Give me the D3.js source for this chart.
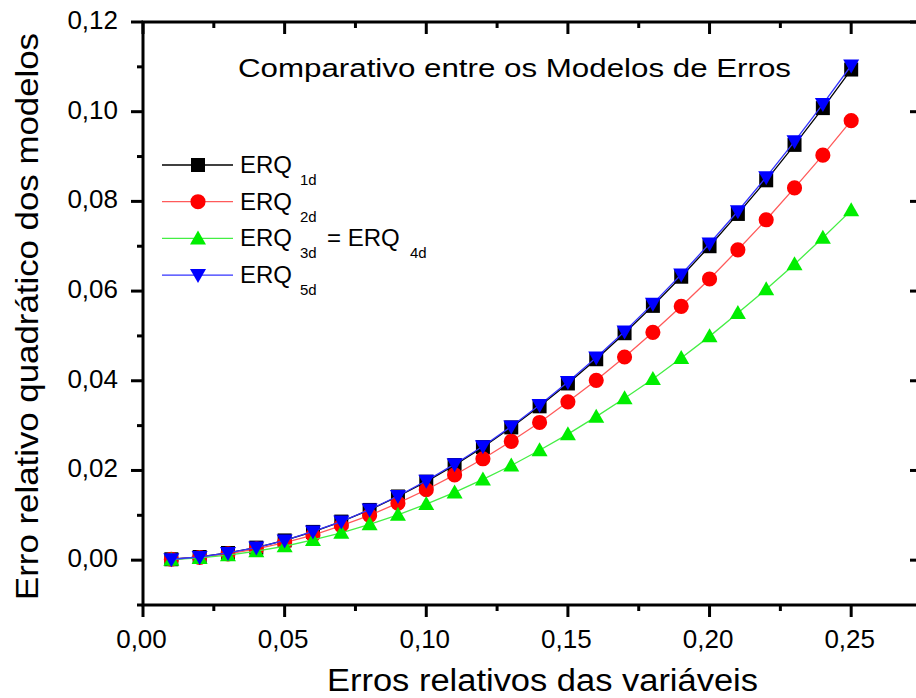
<!DOCTYPE html>
<html>
<head>
<meta charset="utf-8">
<script src="https://cdn.jsdelivr.net/npm/d3@7"></script>
<style>
  body { margin: 0; background: #fff; }
  svg text { font-family: "Liberation Sans", Arial, sans-serif; fill: #000; }
</style>
</head>
<body>
<svg id="chart" width="916" height="698"></svg>
<script>
// erros relativos das variaveis
var xs = [0.01,0.02,0.03,0.04,0.05,0.06,0.07,0.08,0.09,0.10,0.11,0.12,0.13,
          0.14,0.15,0.16,0.17,0.18,0.19,0.20,0.21,0.22,0.23,0.24,0.25];
var erq1 = [0.0002,0.0007,0.0016,0.0028,0.0044,0.0063,0.0086,0.0112,0.0142,0.0175,0.0212,0.0252,0.0296,
            0.0343,0.0394,0.0448,0.0506,0.0567,0.0632,0.0700,0.0772,0.0847,0.0926,0.1008,0.1094];
var erq2 = [0.0002,0.0006,0.0014,0.0025,0.0039,0.0056,0.0077,0.0100,0.0127,0.0157,0.0190,0.0226,0.0265,
            0.0307,0.0353,0.0401,0.0453,0.0508,0.0566,0.0627,0.0692,0.0759,0.0830,0.0903,0.0980];
var erq3 = [0.0001,0.0005,0.0011,0.0020,0.0031,0.0045,0.0061,0.0080,0.0101,0.0125,0.0151,0.0180,0.0211,
            0.0245,0.0281,0.0320,0.0361,0.0404,0.0451,0.0499,0.0551,0.0604,0.0660,0.0719,0.0780];
var erq5 = [0.0002,0.0007,0.0016,0.0028,0.0044,0.0064,0.0086,0.0113,0.0143,0.0177,0.0214,0.0254,0.0298,
            0.0346,0.0397,0.0452,0.0510,0.0572,0.0637,0.0706,0.0778,0.0854,0.0934,0.1017,0.1103];

var xTicks = [0,0.05,0.10,0.15,0.20,0.25];
var xMinor = [0.025,0.075,0.125,0.175,0.225,0.275];
var yTicks = [0,0.02,0.04,0.06,0.08,0.10,0.12];
var yMinor = [-0.01,0.01,0.03,0.05,0.07,0.09,0.11];

var series = [
  {name: "1d", vals: erq1, line: "#000000", fill: "#000000", sym: "square"},
  {name: "2d", vals: erq2, line: "#ff5a5a", fill: "#ff0000", sym: "circle"},
  {name: "3d", vals: erq3, line: "#44ee44", fill: "#00ee00", sym: "up"},
  {name: "5d", vals: erq5, line: "#3333ff", fill: "#0000ff", sym: "down"}
];

var svg = d3.select("#chart");
var x = d3.scaleLinear().domain([0, 0.275]).range([143, 922]);
var y = d3.scaleLinear().domain([-0.01, 0.12]).range([605, 22]);
var fmt = function(d){ return d3.format(".2f")(d).replace(".", ","); };

// symbol paths
function symPath(s) {
  if (s == "square") return "M-7,-7H7V7H-7Z";
  if (s == "circle") return d3.symbol(d3.symbolCircle, 180)();
  if (s == "up") return "M0,-8L8,6H-8Z";
  return "M0,8L8,-6H-8Z";
}

// series
series.forEach(function(s){
  var pts = xs.map(function(v,i){ return [v, s.vals[i]]; });
  svg.append("path")
    .attr("d", d3.line().x(function(d){ return x(d[0]); }).y(function(d){ return y(d[1]); })(pts))
    .attr("fill", "none").attr("stroke", s.line).attr("stroke-width", 1.3);
  svg.selectAll(".m" + s.name).data(pts).join("path")
    .attr("class", "m" + s.name)
    .attr("transform", function(d){ return "translate(" + x(d[0]) + "," + y(d[1]) + ")"; })
    .attr("d", symPath(s.sym))
    .attr("fill", s.fill);
});

// frame
svg.append("rect").attr("x", 143).attr("y", 22).attr("width", 779).attr("height", 583)
  .attr("fill", "none").attr("stroke", "#000").attr("stroke-width", 3);

var ax = svg.append("g").attr("stroke", "#000").attr("stroke-width", 3);
// bottom & top
xTicks.forEach(function(t){
  ax.append("line").attr("x1", x(t)).attr("x2", x(t)).attr("y1", 605).attr("y2", 617);
  ax.append("line").attr("x1", x(t)).attr("x2", x(t)).attr("y1", 22).attr("y2", 34);
});
xMinor.forEach(function(t){
  ax.append("line").attr("x1", x(t)).attr("x2", x(t)).attr("y1", 605).attr("y2", 611);
  ax.append("line").attr("x1", x(t)).attr("x2", x(t)).attr("y1", 22).attr("y2", 28);
});
// left & right
yTicks.forEach(function(t){
  ax.append("line").attr("x1", 131).attr("x2", 143).attr("y1", y(t)).attr("y2", y(t));
  ax.append("line").attr("x1", 910).attr("x2", 922).attr("y1", y(t)).attr("y2", y(t));
});
yMinor.forEach(function(t){
  ax.append("line").attr("x1", 137).attr("x2", 143).attr("y1", y(t)).attr("y2", y(t));
  ax.append("line").attr("x1", 916).attr("x2", 922).attr("y1", y(t)).attr("y2", y(t));
});

svg.selectAll(".xl").data(xTicks).join("text").attr("class", "xl")
  .attr("x", function(d){ return x(d) - 1.5; }).attr("y", 648)
  .attr("text-anchor", "middle").attr("font-size", 26).text(fmt);
svg.selectAll(".yl").data(yTicks).join("text").attr("class", "yl")
  .attr("x", 118).attr("y", function(d){ return y(d) + 7; })
  .attr("text-anchor", "end").attr("font-size", 26).text(fmt);

// titles
svg.append("text").attr("x", 327).attr("y", 691).attr("font-size", 31)
  .attr("textLength", 431).attr("lengthAdjust", "spacingAndGlyphs")
  .text("Erros relativos das variáveis");
svg.append("text").attr("transform", "translate(38,600) rotate(-90)").attr("font-size", 31)
  .attr("textLength", 567).attr("lengthAdjust", "spacingAndGlyphs")
  .text("Erro relativo quadrático dos modelos");
svg.append("text").attr("x", 238).attr("y", 77).attr("font-size", 26)
  .attr("textLength", 553).attr("lengthAdjust", "spacingAndGlyphs")
  .text("Comparativo entre os Modelos de Erros");

// legend
var leg = svg.append("g");
series.forEach(function(s, i){
  var ly = 165 + i * 36.7;
  leg.append("line").attr("x1", 162).attr("x2", 233).attr("y1", ly).attr("y2", ly)
    .attr("stroke", s.line).attr("stroke-width", 1.3);
  leg.append("path").attr("transform", "translate(198," + ly + ")")
    .attr("d", symPath(s.sym)).attr("fill", s.fill);
  var t = leg.append("text").attr("x", 240).attr("y", ly + 8).attr("font-size", 24);
  t.append("tspan").text("ERQ");
  t.append("tspan").attr("x", 300).attr("y", ly + 20).attr("font-size", 15).text(s.name);
  if (s.name == "3d") {
    t.append("tspan").attr("x", 327).attr("y", ly + 8).text("= ERQ");
    t.append("tspan").attr("x", 410).attr("y", ly + 20).attr("font-size", 15).text("4d");
  }
});
</script>
</body>
</html>
